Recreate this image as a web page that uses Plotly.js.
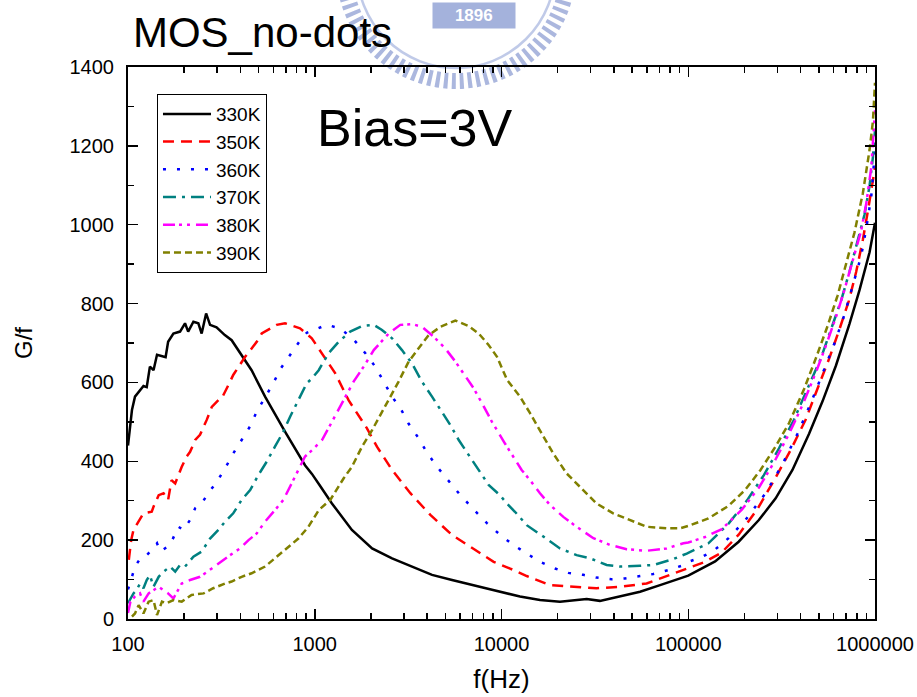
<!DOCTYPE html>
<html>
<head>
<meta charset="utf-8">
<script src="https://cdn.plot.ly/plotly-3.0.1.min.js"></script>
<style>
  html, body { margin: 0; padding: 0; background: #ffffff; }
  #chart { width: 917px; height: 697px; }
</style>
</head>
<body>
<div id="chart"></div>
<script>
// G/f versus frequency, MOS capacitor without dots, bias 3 V, six temperatures.

const f330 = [100, 105, 109, 116, 121, 126, 131, 137, 143, 151, 159, 164, 175, 190, 202, 210, 224, 238, 248, 262, 275, 298, 330, 359, 406, 459, 542, 693, 887, 966, 1067, 1236, 1581, 2028, 2594, 3319, 4246, 5433, 6950, 8892, 12560, 16070, 20560, 28580, 33650, 43150, 55210, 70630, 90360, 100000, 139300, 186200, 238800, 293800, 361400, 443600, 523600, 618000, 729400, 826000, 935000, 1000000];
const g330 = [440, 530, 564, 581, 591, 588, 640, 631, 670, 667, 664, 703, 724, 729, 750, 729, 754, 750, 724, 775, 746, 740, 720, 707, 670, 631, 564, 475, 390, 368, 338, 293, 226, 179, 154, 133, 112, 99, 86, 74, 57, 48, 44, 51, 46, 57, 69, 86, 103, 110, 146, 196, 251, 306, 378, 470, 552, 643, 748, 834, 930, 1005];

const f350 = [101, 104, 107, 116, 121, 134, 137, 146, 155, 164, 171, 179, 194, 206, 215, 229, 243, 264, 281, 305, 318, 352, 366, 424, 489, 520, 625, 693, 834, 964, 1072, 1161, 1288, 1517, 1791, 1901, 2153, 2594, 3251, 4159, 5433, 7244, 9078, 11120, 13650, 18200, 24270, 32280, 43950, 59840, 79800, 94190, 100000, 123000, 151400, 186200, 233900, 287700, 354000, 425600, 492000, 568900, 644200, 724400, 792500, 861000, 916200, 968300, 1000000];
const g350 = [150, 200, 226, 255, 268, 272, 285, 314, 319, 302, 352, 344, 386, 412, 424, 454, 467, 505, 538, 555, 560, 602, 619, 665, 703, 724, 746, 750, 737, 712, 680, 657, 623, 555, 505, 484, 437, 378, 319, 264, 213, 175, 145, 128, 109, 86, 82, 78, 82, 90, 112, 124, 130, 145, 169, 214, 278, 351, 429, 506, 584, 661, 734, 807, 880, 962, 1035, 1108, 1145];

const f360 = [100, 103, 105, 109, 118, 126, 134, 143, 149, 168, 186, 198, 215, 229, 248, 269, 299, 331, 366, 406, 451, 489, 542, 600, 652, 738, 834, 906, 984, 1161, 1371, 1614, 1866, 2109, 2339, 2594, 2911, 3184, 3606, 3990, 4519, 5212, 6026, 7096, 8356, 9863, 11560, 13650, 16070, 19360, 22800, 27420, 32280, 38900, 45810, 55210, 65010, 78160, 92260, 100000, 118000, 136500, 164400, 202300, 259400, 319200, 384600, 452900, 523600, 605300, 685500, 760300, 843300, 897500, 955000, 1000000];
const g360 = [75, 99, 107, 133, 158, 162, 175, 192, 171, 188, 234, 226, 251, 281, 293, 319, 348, 382, 420, 454, 489, 526, 564, 598, 633, 669, 706, 726, 733, 746, 737, 709, 674, 640, 602, 564, 530, 495, 458, 422, 386, 350, 314, 278, 243, 213, 188, 166, 145, 128, 117, 112, 105, 101, 103, 109, 114, 124, 135, 145, 157, 173, 205, 251, 319, 392, 470, 547, 625, 698, 771, 844, 921, 990, 1072, 1190];

const f370 = [100, 107, 111, 116, 121, 126, 131, 137, 146, 155, 168, 179, 190, 202, 224, 248, 275, 305, 331, 366, 406, 451, 499, 553, 612, 679, 738, 817, 906, 966, 1050, 1186, 1343, 1549, 1791, 2070, 2291, 2594, 2931, 3319, 3750, 4246, 4710, 5321, 5902, 6668, 7551, 8531, 9817, 10670, 11800, 13650, 16750, 20560, 25230, 29790, 36560, 43150, 55210, 65010, 83180, 98170, 128200, 164400, 206500, 254100, 306200, 368900, 434500, 512900, 580800, 657700, 729400, 809100, 879000, 935400, 975000, 1000000];
const g370 = [40, 65, 73, 90, 78, 99, 111, 82, 107, 120, 133, 120, 137, 133, 158, 171, 204, 226, 247, 268, 302, 327, 365, 399, 437, 475, 513, 555, 598, 610, 631, 674, 703, 729, 743, 746, 733, 712, 682, 648, 602, 564, 530, 492, 454, 416, 378, 340, 314, 293, 272, 238, 209, 179, 162, 154, 137, 133, 135, 137, 152, 166, 192, 242, 301, 365, 433, 506, 584, 661, 734, 807, 880, 958, 1026, 1099, 1172, 1240];

const f380 = [100, 103, 109, 116, 121, 129, 137, 146, 155, 164, 175, 194, 215, 243, 281, 324, 352, 398, 442, 489, 542, 612, 679, 738, 802, 887, 966, 1094, 1236, 1400, 1614, 1828, 2070, 2489, 2871, 3319, 3750, 4335, 5000, 5662, 6397, 7096, 7870, 8892, 10440, 11560, 12820, 14220, 16070, 18200, 21430, 25230, 31050, 38020, 46770, 59840, 76560, 94190, 100000, 123000, 151400, 194100, 238800, 287700, 346700, 409300, 482000, 545800, 618000, 685500, 760300, 843300, 897500, 955000, 1000000];
const g380 = [15, 44, 57, 65, 44, 65, 73, 82, 73, 65, 52, 90, 99, 107, 128, 150, 162, 179, 200, 217, 247, 276, 302, 336, 369, 412, 428, 454, 500, 547, 602, 640, 682, 724, 746, 748, 741, 716, 686, 653, 615, 585, 547, 500, 445, 412, 378, 352, 319, 289, 259, 234, 205, 188, 177, 173, 179, 192, 194, 208, 228, 278, 333, 397, 470, 543, 625, 693, 766, 834, 907, 985, 1053, 1145, 1290];

const f390 = [105, 109, 114, 121, 129, 137, 143, 152, 161, 175, 194, 219, 254, 286, 331, 359, 406, 459, 542, 625, 723, 817, 925, 1050, 1211, 1429, 1581, 1791, 2028, 2244, 2541, 2812, 3184, 3606, 4074, 4710, 5662, 6668, 7551, 8531, 9462, 10720, 12560, 14220, 16410, 18920, 22340, 26300, 32280, 39630, 50820, 59840, 76560, 90360, 100000, 128200, 164400, 202300, 243800, 293800, 346700, 417800, 482000, 557200, 631000, 699800, 776200, 861000, 935400, 975000, 1000000];
const g390 = [6, 14, 35, 14, 44, 48, 10, 44, 40, 48, 44, 61, 65, 78, 90, 95, 107, 116, 133, 158, 183, 204, 234, 276, 302, 357, 386, 437, 479, 517, 564, 602, 653, 686, 720, 741, 757, 743, 724, 695, 665, 606, 564, 522, 471, 420, 369, 336, 293, 268, 247, 234, 230, 230, 236, 255, 287, 328, 378, 438, 497, 584, 661, 743, 821, 898, 980, 1080, 1190, 1263, 1360];

const seriesNames = ['330K', '350K', '360K', '370K', '380K', '390K'];
const xTickVals = [100, 1000, 10000, 100000, 1000000];
const xTickText = ['100', '1000', '10000', '100000', '1000000'];

const FONT = '"Liberation Sans", Arial, "DejaVu Sans", sans-serif';

// minor ticks at 2..9 × each decade
const minorX = [];
for (let d = 100; d < 1000000; d *= 10) {
  for (let m = 2; m <= 9; m++) minorX.push(d * m);
}

const styles = [
  { color: '#000000', dash: 'solid' },
  { color: '#ff0000', dash: '11px,7px' },
  { color: '#0000ff', dash: '3px,11px' },
  { color: '#008080', dash: '13px,6px,3px,6px' },
  { color: '#ff00ff', dash: '12px,4px,3px,5px,3px,6px' },
  { color: '#808000', dash: '7px,4px' }
];
const xs = [f330, f350, f360, f370, f380, f390];
const ys = [g330, g350, g360, g370, g380, g390];

const traces = seriesNames.map((name, i) => ({
  type: 'scatter',
  mode: 'lines',
  name: name,
  x: xs[i],
  y: ys[i],
  line: { color: styles[i].color, width: 2.5, dash: styles[i].dash },
  hoverinfo: 'skip'
}));

// faint university seal printed behind the top of the figure
const sealCx = 0.4391, sealCy = 1.1775;
const ring = (rx, ry, w, col, dash) => ({
  type: 'circle', xref: 'paper', yref: 'paper', layer: 'below',
  x0: sealCx - rx, x1: sealCx + rx, y0: sealCy - ry, y1: sealCy + ry,
  line: { color: col, width: w, dash: dash }
});

const LEGEND_SAMPLE = 48;

const layout = {
  width: 917,
  height: 697,
  margin: { l: 128, r: 42, t: 67, b: 78 },
  paper_bgcolor: '#ffffff',
  plot_bgcolor: 'rgba(0,0,0,0)',
  font: { family: FONT, color: '#000000' },
  showlegend: true,
  title: {
    text: 'MOS_no-dots',
    font: { family: FONT, size: 42, color: '#000000' },
    xref: 'container', yref: 'container',
    x: 0.145, xanchor: 'left',
    y: 0.953, yanchor: 'middle'
  },
  xaxis: {
    type: 'log',
    range: [2, 6],
    tickmode: 'array',
    tickvals: xTickVals,
    ticktext: xTickText,
    ticks: 'inside',
    ticklen: 10,
    tickwidth: 1.5,
    tickcolor: '#000000',
    showline: true,
    linecolor: '#000000',
    linewidth: 2,
    mirror: 'ticks',
    showgrid: false,
    zeroline: false,
    ticklabelstandoff: 6,
    tickfont: { family: FONT, size: 20, color: '#000000' },
    minor: { tickmode: 'array', tickvals: minorX, ticks: 'inside', ticklen: 6, tickwidth: 1.5, tickcolor: '#000000', showgrid: false },
    title: { text: 'f(Hz)', font: { family: FONT, size: 26, color: '#000000' }, standoff: 16 }
  },
  yaxis: {
    range: [0, 1400],
    dtick: 200,
    ticks: 'inside',
    ticklen: 10,
    tickwidth: 1.5,
    tickcolor: '#000000',
    showline: true,
    linecolor: '#000000',
    linewidth: 2,
    mirror: 'ticks',
    showgrid: false,
    zeroline: false,
    ticklabelstandoff: 8,
    tickfont: { family: FONT, size: 20, color: '#000000' },
    minor: { dtick: 100, ticks: 'inside', ticklen: 6, tickwidth: 1.5, tickcolor: '#000000', showgrid: false },
    title: { text: 'G/f', font: { family: FONT, size: 24, color: '#000000' }, standoff: 30 }
  },
  legend: {
    x: 0.0388, y: 0.951, xanchor: 'left', yanchor: 'top',
    bordercolor: '#000000', borderwidth: 1,
    bgcolor: 'rgba(255,255,255,0)',
    font: { family: FONT, size: 19, color: '#000000' },
    itemwidth: LEGEND_SAMPLE,
    tracegroupgap: 0
  },
  shapes: [
    ring(0.1500, 0.2029, 16, 'rgba(115,135,200,0.6)', '4px,4px'),
    ring(0.1326, 0.1793, 2.5, 'rgba(130,150,210,0.5)', 'solid')
  ],
  annotations: [
    {
      text: 'Bias=3V', xref: 'paper', yref: 'paper',
      x: 0.2503, y: 0.8895, xanchor: 'left', yanchor: 'middle',
      showarrow: false,
      font: { family: FONT, size: 52, color: '#000000' }
    },
    {
      text: '&nbsp;&nbsp;&nbsp;&nbsp;<b>1896</b>&nbsp;&nbsp;&nbsp;&nbsp;', xref: 'paper', yref: 'paper',
      x: 0.4632, y: 1.0942, xanchor: 'center', yanchor: 'middle',
      showarrow: false, bgcolor: 'rgba(125,145,205,0.7)', borderpad: 3,
      font: { family: FONT, size: 17, color: '#ffffff' }
    }
  ]
};

Plotly.newPlot('chart', traces, layout, { displayModeBar: false, staticPlot: true }).then(() => {
  // stretch the legend line samples to fill the wider symbol column
  document.querySelectorAll('#chart .legend .legendlines path').forEach(p => {
    p.setAttribute('d', 'M5,0h' + LEGEND_SAMPLE);
  });
});
</script>
</body>
</html>
